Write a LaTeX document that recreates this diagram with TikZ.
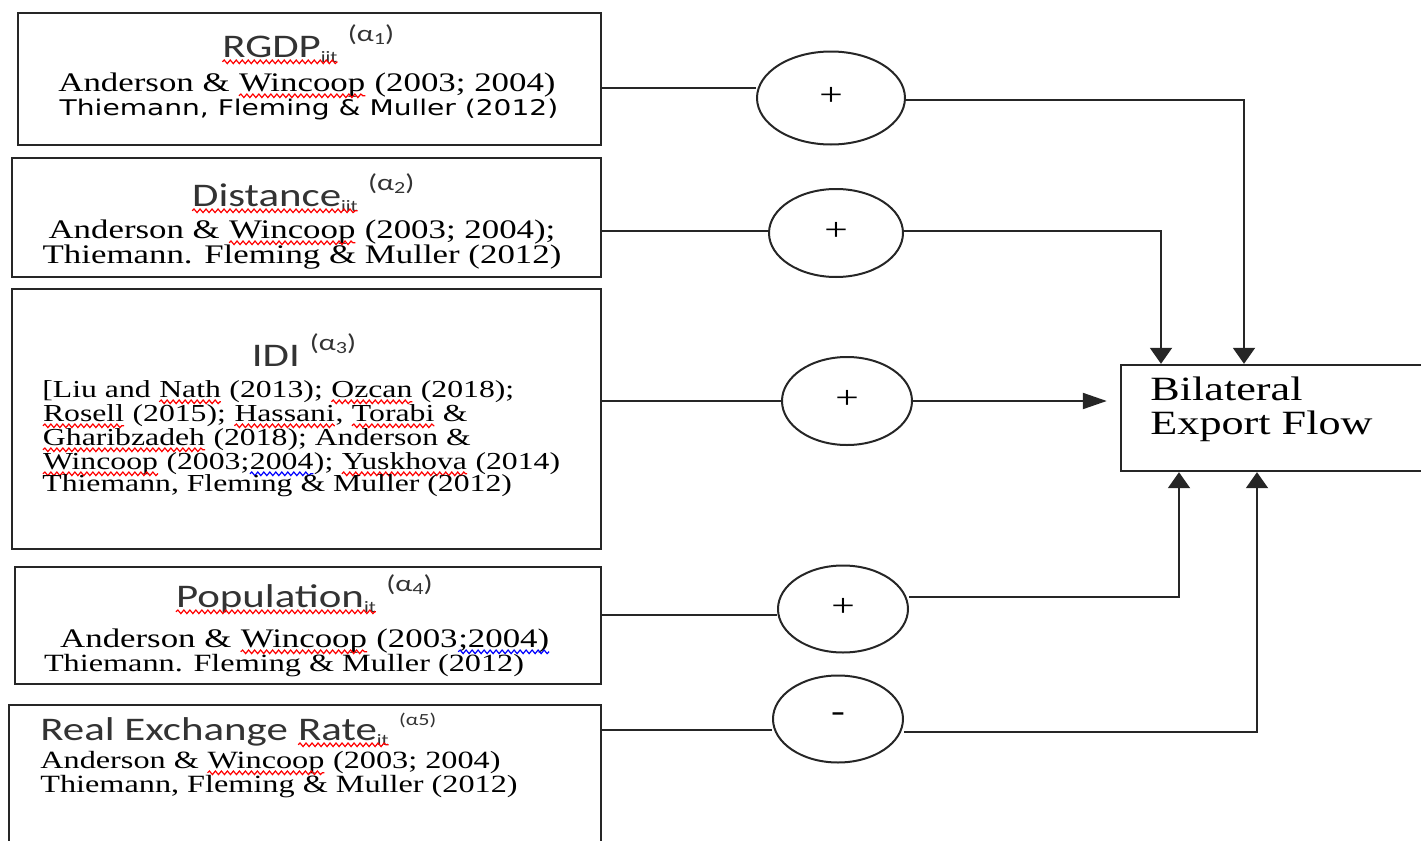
\documentclass[tikz,border=0pt]{standalone}
\usepackage{fontspec}
\usetikzlibrary{shapes.geometric,arrows.meta,decorations.pathmorphing}
\setmainfont{Liberation Serif}
\newfontfamily\ser[FakeStretch=1.3]{Liberation Serif}
\newfontfamily\san[FakeStretch=1.3]{Carlito}
\newfontfamily\dvs[FakeStretch=1.3]{DejaVu Sans}
\newcommand\rw[2][red]{\tikz[baseline=(w.base),x=1pt,y=1pt]{\node[inner sep=0pt,outer sep=0pt,anchor=base,draw=none](w) at (0,0){#2};\draw[#1,line width=0.6pt,decorate,decoration={snake,amplitude=0.9pt,segment length=3pt}]([yshift=-2.4pt]w.base west)--([yshift=-2.4pt]w.base east);}}
\newcommand\bw[1]{\rw[blue]{#1}}
\newcommand\sbs[1]{\raisebox{-2.5pt}{\fontsize{8}{8}\selectfont #1}}
\newcommand\alp[1]{\hspace{0.3em}\raisebox{8pt}{\fontsize{11.5}{12}\selectfont(α\raisebox{-1.5pt}{\fontsize{8.5}{9}\selectfont #1})}}
\newcommand\alpb[1]{\hspace{0.3em}\raisebox{7.5pt}{\fontsize{8.5}{9}\selectfont(α#1)}}
\tikzset{
  bx/.style={draw=black!85, line width=1.2pt, inner sep=0pt},
  el/.style={ellipse, draw=black!85, line width=1pt, inner sep=0pt, text=black, font=\ser\fontsize{16}{16}\selectfont},
  ttl/.style={anchor=base, inner sep=0pt, text=black!80, font=\san\fontsize{16.5}{18}\selectfont},
  ca/.style={anchor=base, inner sep=0pt, text=black, font=\ser\fontsize{13.4}{14}\selectfont},
  cb/.style={anchor=base, inner sep=0pt, text=black, font=\ser\fontsize{12.4}{13}\selectfont},
  cp/.style={anchor=base west, inner sep=0pt, text=black, font=\ser\fontsize{12.2}{13}\selectfont},
  cd/.style={anchor=base, inner sep=0pt, text=black, font=\dvs\fontsize{10.8}{12}\selectfont},
  ot/.style={anchor=base west, inner sep=0pt, text=black, font=\ser\fontsize{17}{18}\selectfont},
  ln/.style={line width=1pt, draw=black!85},
  va/.style={ln, -{Triangle[width=11pt,length=8pt]}},
  ha/.style={ln, -{Triangle[width=8pt,length=12pt]}}
}
\begin{document}
\begin{tikzpicture}[x=0.5pt,y=-0.5pt]
\useasboundingbox (0,0) rectangle (1421,841);
% boxes
\node[bx, minimum width=291.5pt, minimum height=66pt] (b1) at (309.5,79) {};
\node[bx, minimum width=294.5pt, minimum height=59.5pt] (b2) at (306.5,217.5) {};
\node[bx, minimum width=294.5pt, minimum height=130pt] (b3) at (306.5,419) {};
\node[bx, minimum width=293pt, minimum height=58.5pt] (b4) at (308,625.5) {};
\node[bx, minimum width=296pt, minimum height=82.5pt] (b5) at (305,787.5) {};
\node[bx, minimum width=159.5pt, minimum height=53pt] (out) at (1280.5,418) {};
% ellipses
\node[el, minimum width=74pt, minimum height=46.5pt] (e1) at (831,98) {\raisebox{1.5pt}{+}};
\node[el, minimum width=67pt, minimum height=44pt] (e2) at (836,233) {\raisebox{1.5pt}{+}};
\node[el, minimum width=65pt, minimum height=44pt] (e3) at (847,401) {\raisebox{1.5pt}{+}};
\node[el, minimum width=65pt, minimum height=43.5pt] (e4) at (843,609) {\raisebox{1.5pt}{+}};
\node[el, minimum width=65pt, minimum height=43.5pt] (e5) at (838,719) {\raisebox{1.5pt}{-}};
% box 1
\node[ttl] (t1) at (308,57) {\rw{RGDP\sbs{iit}}\alp{1}};
\node[ca] (c1a) at (307,91) {Anderson \& \rw{Wincoop} (2003; 2004)};
\node[cd] (c1b) at (309,115) {Thiemann, Fleming \& Muller (2012)};
% box 2
\node[ttl] (t2) at (303,206) {\rw{Distance\sbs{iit}}\alp{2}};
\node[ca] (c2a) at (302,238) {Anderson \& \rw{Wincoop} (2003; 2004);};
\node[ca] (c2b) at (302,263) {Thiemann. Fleming \& Muller (2012)};
% box 3
\node[ttl] (t3) at (304,366) {IDI\alp{3}};
\node[cp] (p1) at (42,397) {[Liu and \rw{Nath} (2013); \rw{Ozcan} (2018);};
\node[cp] (p2) at (42,421) {\rw{Rosell} (2015); \rw{Hassani}, \rw{Torabi} \&};
\node[cp] (p3) at (42,445) {\rw{Gharibzadeh} (2018); Anderson \&};
\node[cp] (p4) at (42,469) {\rw{Wincoop} (2003;\bw{2004}); \rw{Yuskhova} (2014)};
\node[cp] (p5) at (42,491) {Thiemann, Fleming \& Muller (2012)};
% box 4
\node[ttl] (t4) at (304,607) {\rw{Population\sbs{it}}\alp{4}};
\node[ca] (c4a) at (305,647) {Anderson \& \rw{Wincoop} (2003\bw{;2004)}};
\node[cb] (c4b) at (284,671) {Thiemann. Fleming \& Muller (2012)};
% box 5
\node[ttl, anchor=base west] (t5) at (40,740) {Real Exchange \rw{Rate\sbs{it}}\alpb{5}};
\node[cp, font=\ser\fontsize{12.4}{13}\selectfont] (c5a) at (40,768) {Anderson \& \rw{Wincoop} (2003; 2004)};
\node[cp, font=\ser\fontsize{12.4}{13}\selectfont] (c5b) at (40,792) {Thiemann, Fleming \& Muller (2012)};
% output
\node[ot] (o1) at (1150,400) {Bilateral};
\node[ot] (o2) at (1150,434) {Export Flow};
% connectors
\draw[ln] (b1.east |- 0,88) -- (e1.west |- 0,88);
\draw[va] (e1.east |- 0,100) -| (out.north -| 1244,0);
\draw[ln] (b2.east |- 0,231) -- (e2.west |- 0,231);
\draw[va] (e2.east |- 0,231) -| (out.north -| 1161,0);
\draw[ln] (b3.east |- e3) -- (e3.west);
\draw[ha, shorten >=6.5pt] (e3.east) -- (out.west |- e3);
\draw[ln] (b4.east |- 0,615) -- (e4.west |- 0,615);
\draw[va] (e4.east |- 0,597) -| (out.south -| 1179,0);
\draw[ln] (b5.east |- 0,730) -- (e5.west |- 0,730);
\draw[va] (e5.east |- 0,732) -| (out.south -| 1257,0);
\end{tikzpicture}
\end{document}
